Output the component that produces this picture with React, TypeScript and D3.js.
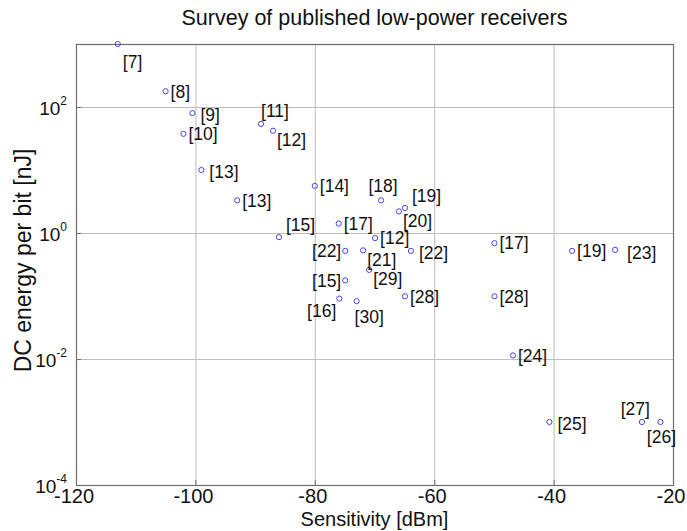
import React, { useRef, useEffect } from 'react';
import * as d3 from 'd3';

// reference tags, sensitivity [dBm] and energy per bit [nJ]
const REFS = [
    "[7]", "[8]", "[9]", "[10]", "[11]", "[12]", "[13]", "[13]", "[14]", "[15]",
    "[17]", "[18]", "[19]", "[20]", "[12]", "[22]", "[21]", "[22]", "[29]", "[15]",
    "[16]", "[30]", "[28]", "[17]", "[28]", "[19]", "[23]", "[24]", "[25]", "[27]", "[26]"
];
const SENSITIVITY = [
    -113, -105, -100.5, -102, -89, -87, -99, -93, -80, -86,
    -76, -68.9, -64.9, -65.9, -69.9, -74.9, -71.9, -63.9, -70.9, -74.9,
    -75.9, -73, -64.9, -49.9, -49.9, -36.9, -29.7, -46.8, -40.7, -25.2, -22.1
];
const ENERGY = [
    1000, 178, 80, 37.5, 54, 42, 10, 3.3, 5.6, 0.86,
    1.41, 3.3, 2.5, 2.2, 0.83, 0.52, 0.53, 0.52, 0.26, 0.177,
    0.091, 0.083, 0.099, 0.69, 0.099, 0.52, 0.54, 0.0114, 0.001, 0.001, 0.001
];
// where each tag sits relative to its marker
const LABEL_SIDE = [
    "bb", "r", "r2", "r", "t", "br", "r2", "r", "r", "tr",
    "r", "tc", "tr", "br", "r", "l", "br", "r2", "br", "l",
    "bl", "bs", "r", "r", "r", "r", "rf", "r", "r2", "tl", "bc"
];
const X_TICKS = [-120, -100, -80, -60, -40, -20];
const Y_TICKS = [-4, -2, 0, 2];

const SIDES = {
    r: { dx: 5, dy: 0, anchor: "start" },
    r2: { dx: 8, dy: 2, anchor: "start" },
    rf: { dx: 12, dy: 3, anchor: "start" },
    l: { dx: -4, dy: 0, anchor: "end" },
    tr: { dx: 7, dy: -12, anchor: "start" },
    br: { dx: 4, dy: 9, anchor: "start" },
    t: { dx: 0, dy: -13, anchor: "start" },
    tc: { dx: 2, dy: -15, anchor: "middle" },
    tl: { dx: 8, dy: -13, anchor: "end" },
    bc: { dx: 1, dy: 15, anchor: "middle" },
    bs: { dx: -2, dy: 16, anchor: "start" },
    bb: { dx: 5, dy: 18, anchor: "start" },
    bl: { dx: -3, dy: 12, anchor: "end" },
};

const FONT = "'Liberation Sans', Arial, Helvetica, sans-serif";

export default function App() {
    const svgRef = useRef(null);
    const W = 687, H = 531;
    const margin = { top: 44, right: 14, bottom: 46, left: 76 };

    useEffect(() => {
        const svg = d3.select(svgRef.current);
        svg.selectAll("*").remove();

        const x = d3.scaleLinear().domain([-120, -20]).range([margin.left, W - margin.right]);
        const y = d3.scaleLog().domain([1e-4, 1e3]).range([H - margin.bottom, margin.top]);
        const [x0, x1] = x.range();
        const [y0, y1] = y.range();

        svg.append("rect").attr("width", W).attr("height", H).attr("fill", "#fff");

        // grid
        const grid = svg.append("g").attr("stroke", "#bdbdbd").attr("stroke-width", 1);
        grid.selectAll(".gx").data(X_TICKS.slice(1, -1)).enter().append("line")
            .attr("x1", d => x(d) + 0.5).attr("x2", d => x(d) + 0.5)
            .attr("y1", y1).attr("y2", y0);
        grid.selectAll(".gy").data(Y_TICKS.slice(1)).enter().append("line")
            .attr("x1", x0).attr("x2", x1)
            .attr("y1", d => Math.round(y(Math.pow(10, d))) + 0.5)
            .attr("y2", d => Math.round(y(Math.pow(10, d))) + 0.5);

        // tick marks
        const ticks = svg.append("g").attr("stroke", "#707070").attr("stroke-width", 1);
        ticks.selectAll(".tx").data(X_TICKS).enter().append("line")
            .attr("x1", d => x(d) + 0.5).attr("x2", d => x(d) + 0.5)
            .attr("y1", y0).attr("y2", y0 - 5);
        ticks.selectAll(".ty").data(Y_TICKS).enter().append("line")
            .attr("x1", x0).attr("x2", x0 + 5)
            .attr("y1", d => Math.round(y(Math.pow(10, d))) + 0.5)
            .attr("y2", d => Math.round(y(Math.pow(10, d))) + 0.5);

        // box
        svg.append("rect")
            .attr("x", x0 + 0.5).attr("y", y1 + 0.5)
            .attr("width", x1 - x0).attr("height", y0 - y1)
            .attr("fill", "none").attr("stroke", "#6e6e6e").attr("stroke-width", 1.2);

        // tick labels
        svg.append("g").selectAll("text").data(X_TICKS).enter().append("text")
            .attr("x", d => x(d) - 2).attr("y", y0 + 18)
            .attr("text-anchor", "middle")
            .style("font-family", FONT).style("font-size", "20px").attr("fill", "#111")
            .text(d => d);

        const yl = svg.append("g").selectAll("text").data(Y_TICKS).enter().append("text")
            .attr("x", x0 - 9).attr("y", d => y(Math.pow(10, d)) + 8)
            .attr("text-anchor", "end")
            .style("font-family", FONT).style("font-size", "19px").attr("fill", "#111");
        yl.append("tspan").text("10");
        yl.append("tspan").attr("dy", -10).style("font-size", "12px").text(d => d);

        // axis titles
        svg.append("text")
            .attr("x", (x0 + x1) / 2).attr("y", 25)
            .attr("text-anchor", "middle")
            .style("font-family", FONT).style("font-size", "21.5px").attr("fill", "#111")
            .text("Survey of published low-power receivers");
        svg.append("text")
            .attr("x", (x0 + x1) / 2).attr("y", H - 5)
            .attr("text-anchor", "middle")
            .style("font-family", FONT).style("font-size", "20px").attr("fill", "#111")
            .text("Sensitivity [dBm]");
        svg.append("text")
            .attr("transform", `translate(31, ${(y0 + y1) / 2 - 4}) rotate(-90)`)
            .attr("text-anchor", "middle")
            .style("font-family", FONT).style("font-size", "23px").attr("fill", "#111")
            .text("DC energy per bit [nJ]");

        const points = REFS.map((r, i) => ({ ref: r, sx: SENSITIVITY[i], e: ENERGY[i], side: SIDES[LABEL_SIDE[i]] }));

        // markers
        svg.append("g").selectAll("circle").data(points).enter().append("circle")
            .attr("cx", d => x(d.sx)).attr("cy", d => y(d.e)).attr("r", 2.6)
            .attr("fill", "none").attr("stroke", "#4646f0").attr("stroke-width", 1);

        // tags
        svg.append("g").selectAll("text").data(points).enter().append("text")
            .attr("x", d => x(d.sx) + d.side.dx)
            .attr("y", d => y(d.e) + d.side.dy)
            .attr("dy", "0.36em")
            .attr("text-anchor", d => d.side.anchor)
            .style("font-family", FONT).style("font-size", "17.5px").attr("fill", "#111")
            .text(d => d.ref);
    }, []);

    return (
        <div style={{ position: "fixed", left: 0, top: 0 }}>
            <svg ref={svgRef} width={W} height={H} style={{ display: "block" }} />
        </div>
    );
}
